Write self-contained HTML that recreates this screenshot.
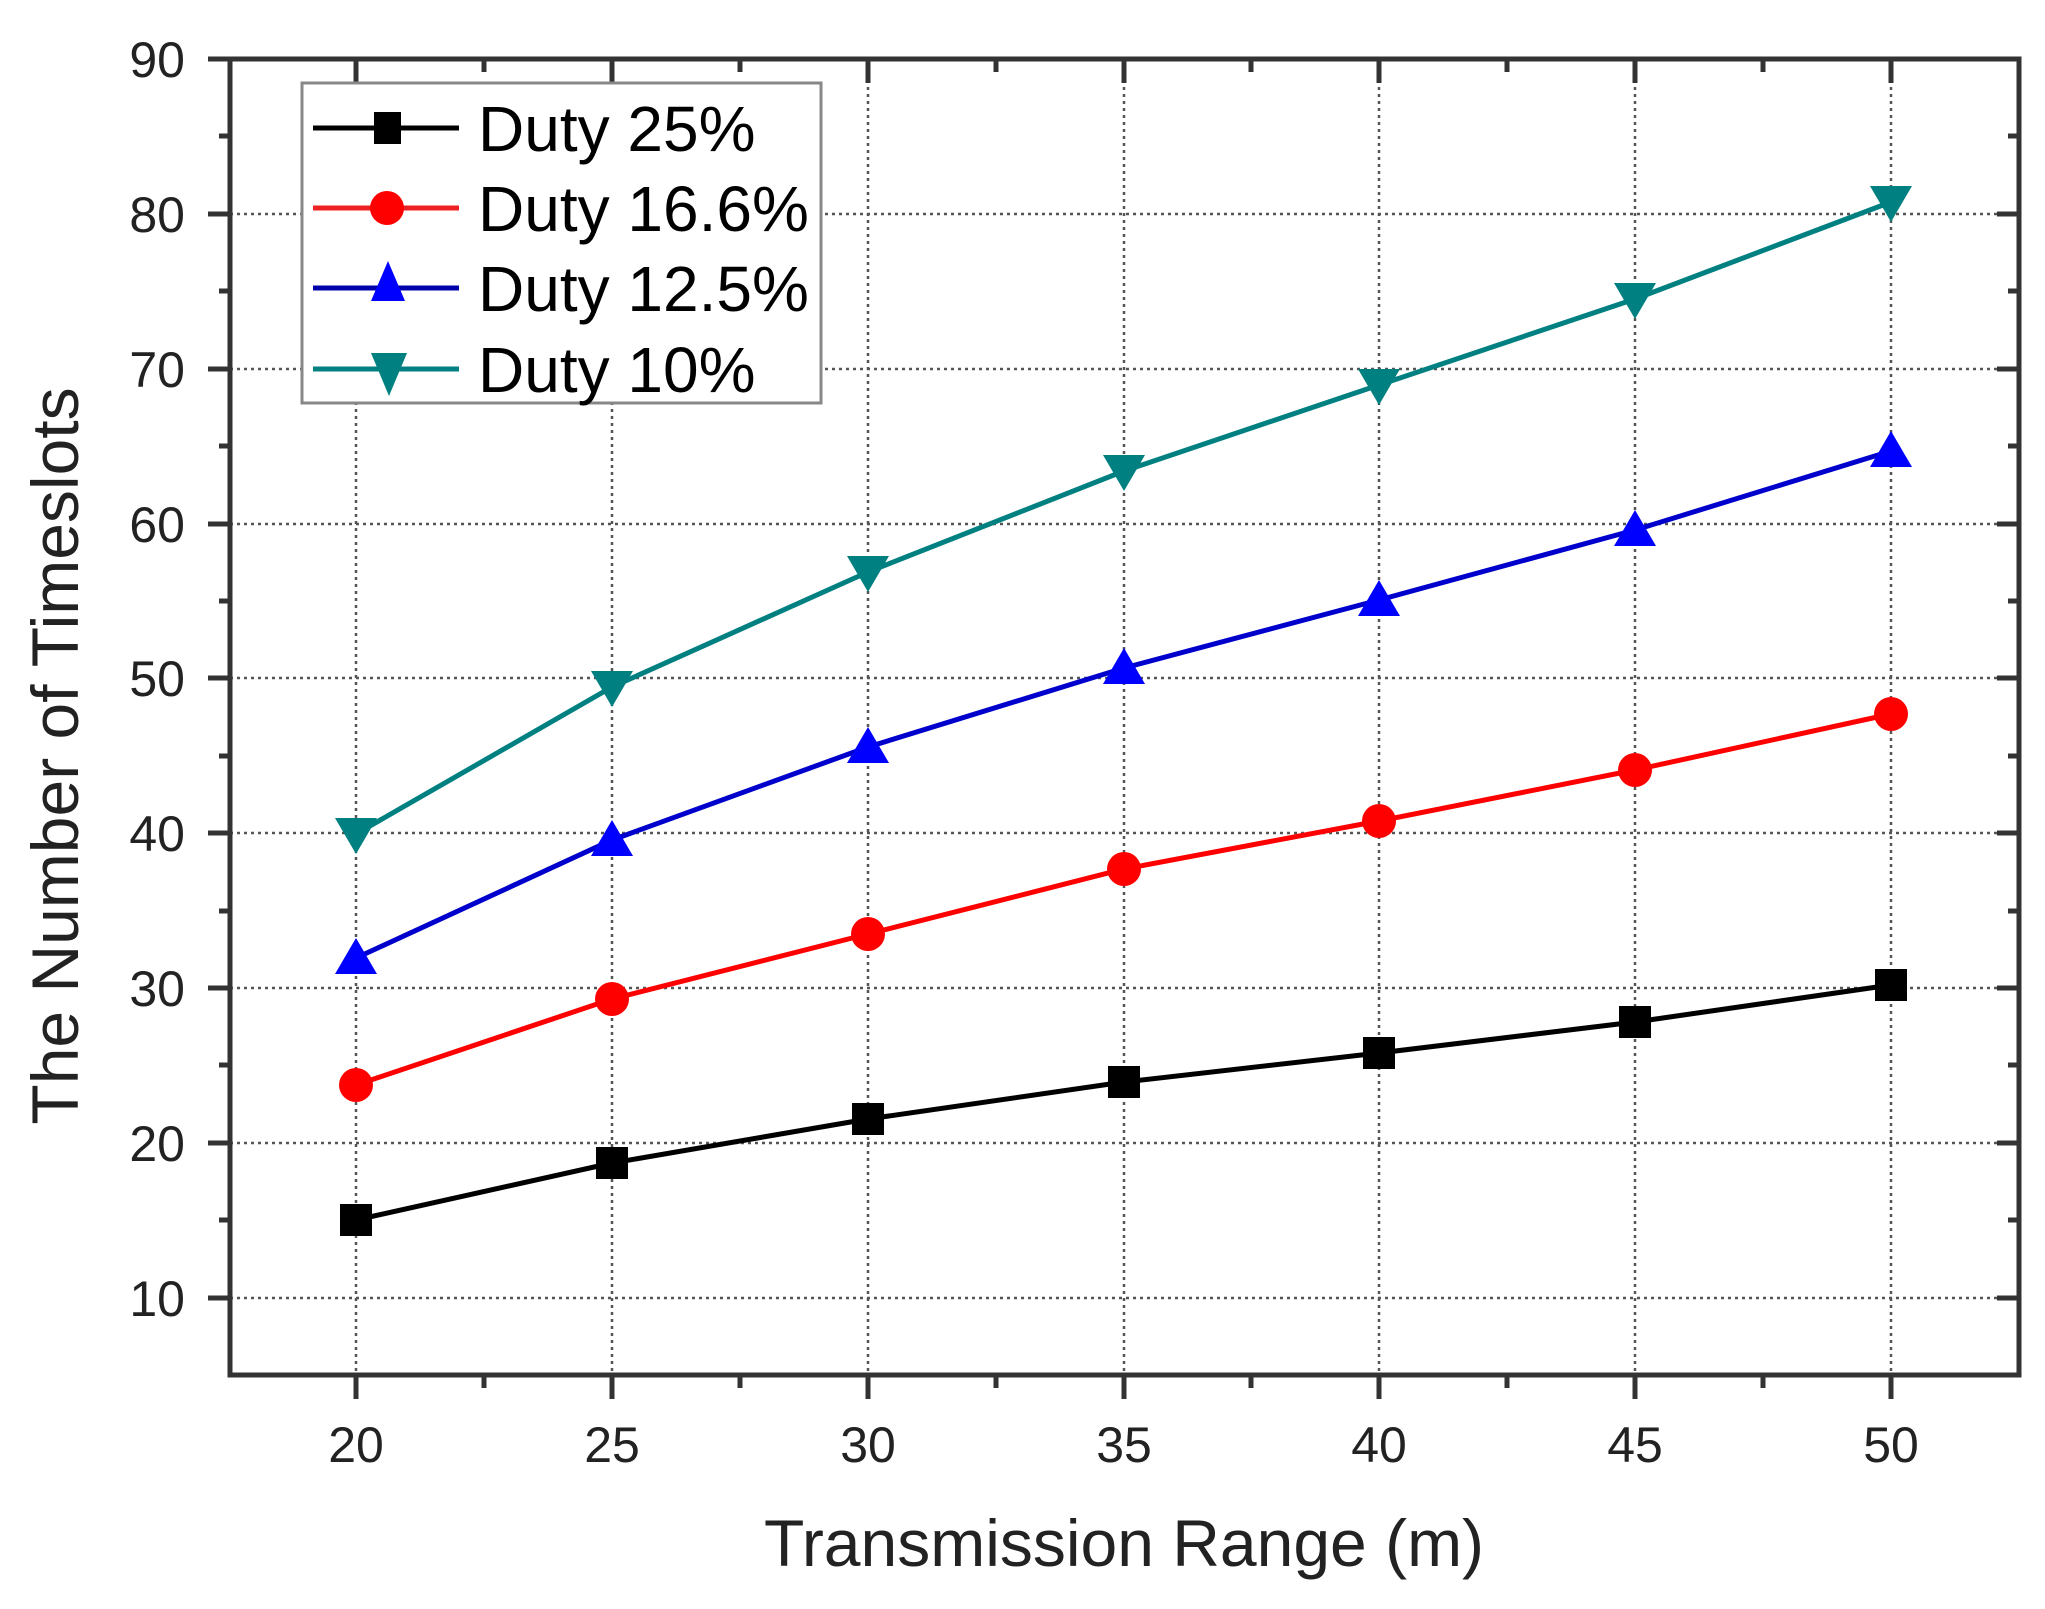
<!DOCTYPE html>
<html><head><meta charset="utf-8"><style>
html,body{margin:0;padding:0;background:#fff;}
svg{display:block;font-family:"Liberation Sans",Arial,sans-serif;}
</style></head><body>
<svg width="2045" height="1609" viewBox="0 0 2045 1609" xmlns="http://www.w3.org/2000/svg">
<rect width="2045" height="1609" fill="#fff"/>
<g id="grid" stroke="#555" stroke-width="2.5" stroke-dasharray="3,4">
<line x1="356" y1="59" x2="356" y2="1375"/>
<line x1="612" y1="59" x2="612" y2="1375"/>
<line x1="868" y1="59" x2="868" y2="1375"/>
<line x1="1124" y1="59" x2="1124" y2="1375"/>
<line x1="1379" y1="59" x2="1379" y2="1375"/>
<line x1="1635" y1="59" x2="1635" y2="1375"/>
<line x1="1891" y1="59" x2="1891" y2="1375"/>
<line x1="230" y1="214" x2="2019" y2="214"/>
<line x1="230" y1="369" x2="2019" y2="369"/>
<line x1="230" y1="524" x2="2019" y2="524"/>
<line x1="230" y1="678" x2="2019" y2="678"/>
<line x1="230" y1="833" x2="2019" y2="833"/>
<line x1="230" y1="988" x2="2019" y2="988"/>
<line x1="230" y1="1143" x2="2019" y2="1143"/>
<line x1="230" y1="1298" x2="2019" y2="1298"/>
</g>
<g id="axes" stroke="#333" stroke-width="5" fill="none">
<rect x="230" y="59" width="1789" height="1316"/>
</g>
<g stroke="#333" stroke-width="5">
<line x1="208" y1="59" x2="230" y2="59"/><line x1="208" y1="214" x2="230" y2="214"/><line x1="208" y1="369" x2="230" y2="369"/><line x1="208" y1="524" x2="230" y2="524"/><line x1="208" y1="678" x2="230" y2="678"/><line x1="208" y1="833" x2="230" y2="833"/><line x1="208" y1="988" x2="230" y2="988"/><line x1="208" y1="1143" x2="230" y2="1143"/><line x1="208" y1="1298" x2="230" y2="1298"/>
<line x1="219" y1="136" x2="230" y2="136"/><line x1="219" y1="291" x2="230" y2="291"/><line x1="219" y1="446" x2="230" y2="446"/><line x1="219" y1="601" x2="230" y2="601"/><line x1="219" y1="756" x2="230" y2="756"/><line x1="219" y1="911" x2="230" y2="911"/><line x1="219" y1="1065" x2="230" y2="1065"/><line x1="219" y1="1220" x2="230" y2="1220"/>
<line x1="1997" y1="214" x2="2019" y2="214"/><line x1="1997" y1="369" x2="2019" y2="369"/><line x1="1997" y1="524" x2="2019" y2="524"/><line x1="1997" y1="678" x2="2019" y2="678"/><line x1="1997" y1="833" x2="2019" y2="833"/><line x1="1997" y1="988" x2="2019" y2="988"/><line x1="1997" y1="1143" x2="2019" y2="1143"/><line x1="1997" y1="1298" x2="2019" y2="1298"/>
<line x1="2008" y1="136" x2="2019" y2="136"/><line x1="2008" y1="291" x2="2019" y2="291"/><line x1="2008" y1="446" x2="2019" y2="446"/><line x1="2008" y1="601" x2="2019" y2="601"/><line x1="2008" y1="756" x2="2019" y2="756"/><line x1="2008" y1="911" x2="2019" y2="911"/><line x1="2008" y1="1065" x2="2019" y2="1065"/><line x1="2008" y1="1220" x2="2019" y2="1220"/>
<line x1="356" y1="1375" x2="356" y2="1399"/><line x1="612" y1="1375" x2="612" y2="1399"/><line x1="868" y1="1375" x2="868" y2="1399"/><line x1="1124" y1="1375" x2="1124" y2="1399"/><line x1="1379" y1="1375" x2="1379" y2="1399"/><line x1="1635" y1="1375" x2="1635" y2="1399"/><line x1="1891" y1="1375" x2="1891" y2="1399"/>
<line x1="484" y1="1375" x2="484" y2="1388"/><line x1="740" y1="1375" x2="740" y2="1388"/><line x1="996" y1="1375" x2="996" y2="1388"/><line x1="1251" y1="1375" x2="1251" y2="1388"/><line x1="1507" y1="1375" x2="1507" y2="1388"/><line x1="1763" y1="1375" x2="1763" y2="1388"/>
<line x1="356" y1="59" x2="356" y2="83"/><line x1="612" y1="59" x2="612" y2="83"/><line x1="868" y1="59" x2="868" y2="83"/><line x1="1124" y1="59" x2="1124" y2="83"/><line x1="1379" y1="59" x2="1379" y2="83"/><line x1="1635" y1="59" x2="1635" y2="83"/><line x1="1891" y1="59" x2="1891" y2="83"/>
<line x1="484" y1="59" x2="484" y2="72"/><line x1="740" y1="59" x2="740" y2="72"/><line x1="996" y1="59" x2="996" y2="72"/><line x1="1251" y1="59" x2="1251" y2="72"/><line x1="1507" y1="59" x2="1507" y2="72"/><line x1="1763" y1="59" x2="1763" y2="72"/>
</g>
<g font-size="50" fill="#222" text-anchor="end">
<text x="185" y="77">90</text><text x="185" y="232">80</text><text x="185" y="387">70</text><text x="185" y="542">60</text><text x="185" y="696">50</text><text x="185" y="851">40</text><text x="185" y="1006">30</text><text x="185" y="1161">20</text><text x="185" y="1316">10</text>
</g>
<g font-size="50" fill="#222" text-anchor="middle">
<text x="356" y="1462">20</text><text x="612" y="1462">25</text><text x="868" y="1462">30</text><text x="1124" y="1462">35</text><text x="1379" y="1462">40</text><text x="1635" y="1462">45</text><text x="1891" y="1462">50</text>
</g>
<text x="1124" y="1566" font-size="66" fill="#222" text-anchor="middle">Transmission Range (m)</text>
<text transform="translate(78,756) rotate(-90)" font-size="66" fill="#222" text-anchor="middle">The Number of Timeslots</text>

<polyline fill="none" stroke="#000" stroke-width="5" points="356,1220 612,1163 868,1119 1124,1082 1379,1053 1635,1022 1891,985"/>
<polyline fill="none" stroke="#f00" stroke-width="5" points="356,1085 612,999 868,934 1124,869 1379,821 1635,770 1891,714"/>
<polyline fill="none" stroke="#00c" stroke-width="5" points="356,958 612,840 868,747 1124,668 1379,600 1635,530 1891,451"/>
<polyline fill="none" stroke="#008080" stroke-width="5" points="356,834 612,687 868,572 1124,471 1379,385 1635,299 1891,202"/>
<g fill="#000">
<rect x="340" y="1204" width="32" height="32"/><rect x="596" y="1147" width="32" height="32"/><rect x="852" y="1103" width="32" height="32"/><rect x="1108" y="1066" width="32" height="32"/><rect x="1363" y="1037" width="32" height="32"/><rect x="1619" y="1006" width="32" height="32"/><rect x="1875" y="969" width="32" height="32"/>
</g>
<g fill="#f00">
<circle cx="356" cy="1085" r="17"/><circle cx="612" cy="999" r="17"/><circle cx="868" cy="934" r="17"/><circle cx="1124" cy="869" r="17"/><circle cx="1379" cy="821" r="17"/><circle cx="1635" cy="770" r="17"/><circle cx="1891" cy="714" r="17"/>
</g>
<g fill="#00f">
<polygon points="356,938 335,974 377,974"/><polygon points="612,820 591,856 633,856"/><polygon points="868,727 847,763 889,763"/><polygon points="1124,648 1103,684 1145,684"/><polygon points="1379,580 1358,616 1400,616"/><polygon points="1635,510 1614,546 1656,546"/><polygon points="1891,431 1870,467 1912,467"/>
</g>
<g fill="#008080">
<polygon points="356,854 335,818 377,818"/><polygon points="612,707 591,671 633,671"/><polygon points="868,592 847,556 889,556"/><polygon points="1124,491 1103,455 1145,455"/><polygon points="1379,405 1358,369 1400,369"/><polygon points="1635,319 1614,283 1656,283"/><polygon points="1891,222 1870,186 1912,186"/>
</g>

<rect x="302" y="83" width="519" height="320" fill="#fff" stroke="#888" stroke-width="3"/>
<g stroke-width="5">
<line x1="313" y1="128" x2="459" y2="128" stroke="#000"/>
<line x1="313" y1="208" x2="459" y2="208" stroke="#e22"/>
<line x1="313" y1="288" x2="459" y2="288" stroke="#00a"/>
<line x1="313" y1="369" x2="459" y2="369" stroke="#008080"/>
</g>
<rect x="374" y="112" width="27" height="32" fill="#000"/>
<circle cx="387" cy="208" r="17" fill="#f00"/>
<polygon points="388,261 371,301 405,301" fill="#00f"/>
<polygon points="389,396 371,353 407,353" fill="#008080"/>
<g font-size="64" fill="#000">
<text x="478" y="151">Duty 25%</text>
<text x="478" y="231">Duty 16.6%</text>
<text x="478" y="311">Duty 12.5%</text>
<text x="478" y="392">Duty 10%</text>
</g>
</svg>
</body></html>
